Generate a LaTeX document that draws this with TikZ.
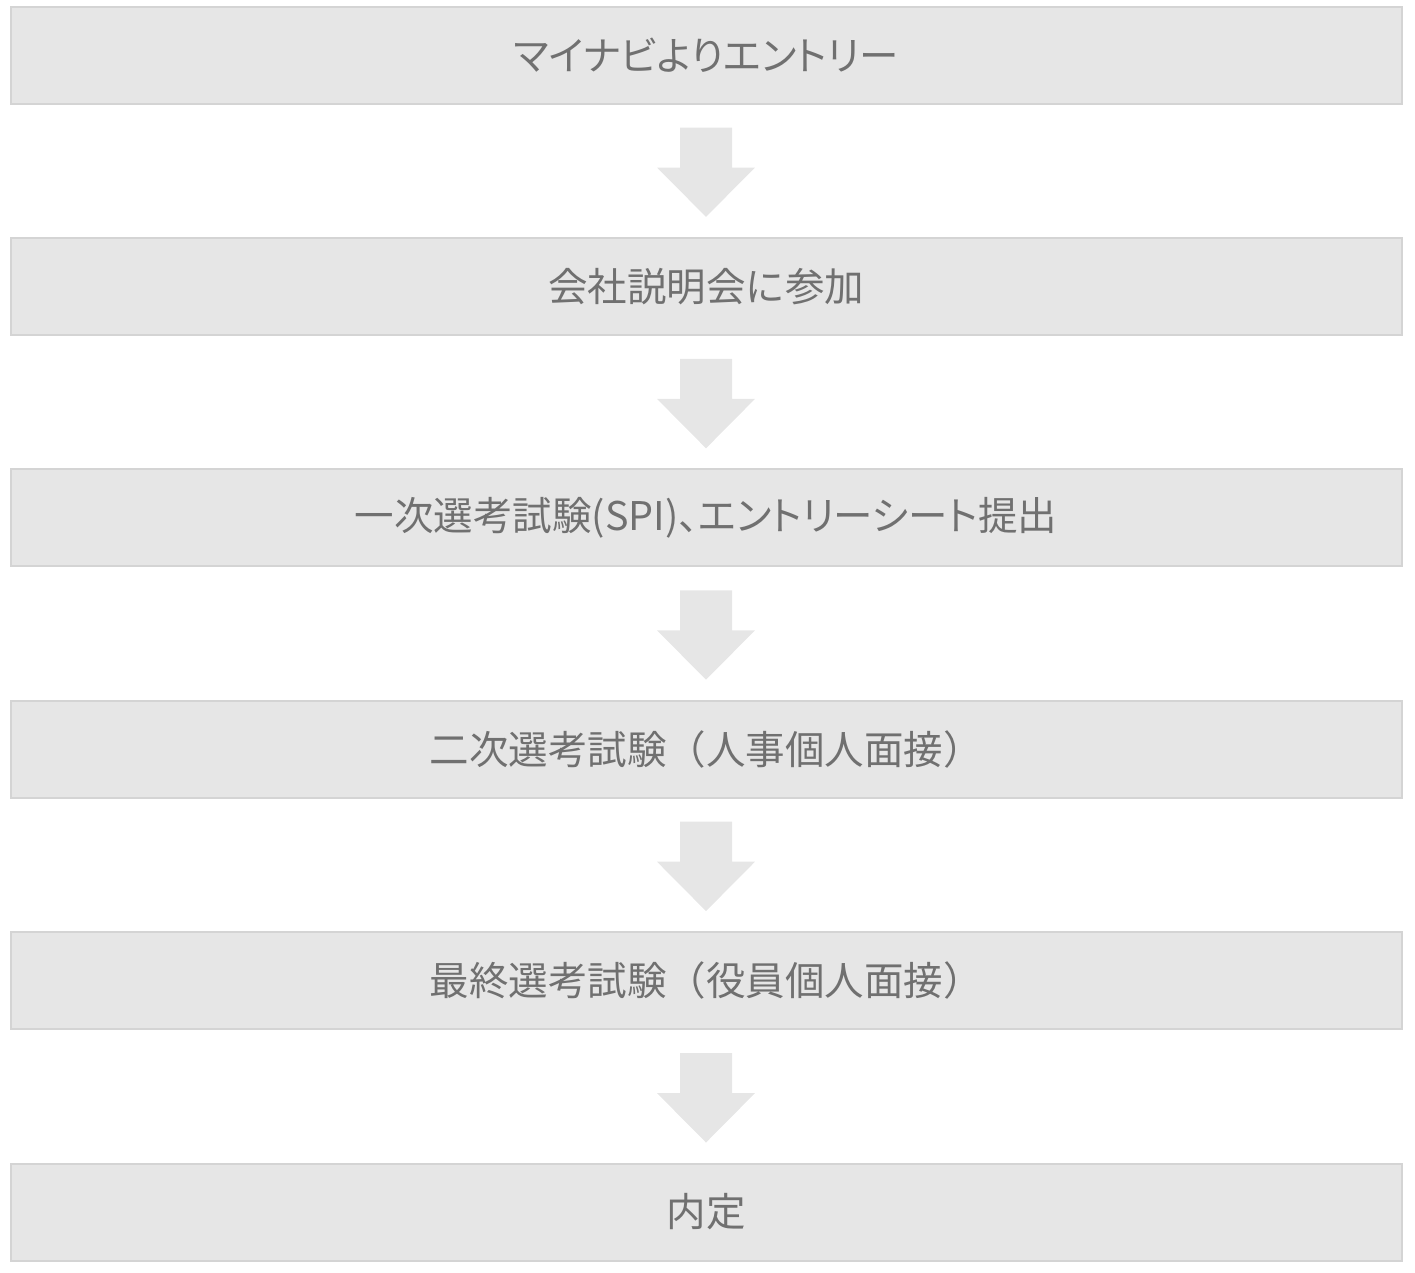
\documentclass[tikz,border=0pt]{standalone}
\usepackage{fontspec}
\setmainfont{Noto Sans CJK JP}
\newfontfamily\paltfont{Noto Sans CJK JP}[RawFeature=+palt]
\usetikzlibrary{calc}
\definecolor{boxfill}{HTML}{E6E6E6}
\definecolor{boxline}{HTML}{D4D4D4}
\definecolor{txt}{HTML}{707070}
\definecolor{arrfill}{HTML}{E6E6E6}
\tikzset{
  stepbox/.style={draw=boxline, fill=boxfill, line width=2pt, minimum width=1391pt, minimum height=97pt, inner sep=0pt, text=txt, font=\fontsize{39.5}{42}\selectfont},
  flowarrow/.style={fill=arrfill, draw=none}
}
\newcommand{\flowarr}[2]{%
  \fill[flowarrow] ($(#1.south)+(-26,-23)$) -- ($(#1.south)+(26,-23)$) -- ($(#1.south)+(26,-63)$) -- ($(#1.south)+(49,-63)$) -- ($(#2.north)+(0,20)$) -- ($(#1.south)+(-49,-63)$) -- ($(#1.south)+(-26,-63)$) -- cycle;}
\begin{document}
\begin{tikzpicture}[x=1pt,y=1pt]
\useasboundingbox (0,0) rectangle (1415,-1272);
\node[stepbox] (b1) at (706,-55) {\paltfont マイナビよりエントリー};
\node[stepbox] (b2) at (706,-286.4) {会社説明会に参加};
\node[stepbox] (b3) at (706,-517.8) {一次選考試験{\paltfont (SPI)、エントリーシート}提出};
\node[stepbox] (b4) at (706,-749.2) {二次選考試験（人事個人面接）};
\node[stepbox] (b5) at (706,-980.6) {最終選考試験（役員個人面接）};
\node[stepbox] (b6) at (706,-1212) {内定};
\flowarr{b1}{b2}
\flowarr{b2}{b3}
\flowarr{b3}{b4}
\flowarr{b4}{b5}
\flowarr{b5}{b6}
\end{tikzpicture}
\end{document}
